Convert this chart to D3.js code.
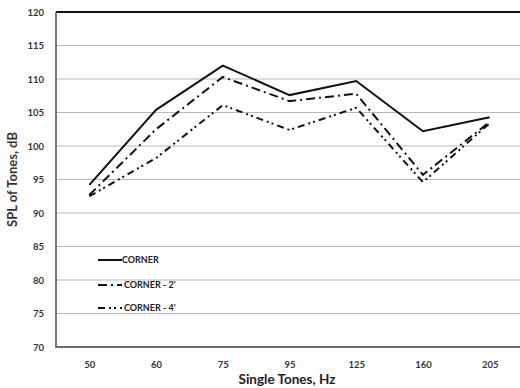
<!DOCTYPE html>
<html>
<head>
<meta charset="utf-8">
<script src="https://cdn.jsdelivr.net/npm/d3@7/dist/d3.min.js"></script>
<style>
  html, body { margin: 0; padding: 0; background: #fff; }
  svg { display: block; }
</style>
</head>
<body>
<svg id="chart" width="520" height="388"></svg>
<script>
// Single-tone SPL measured at the corner and at 2' / 4' from the corner
const frequencies = ["50", "60", "75", "95", "125", "160", "205"];
const corner   = [94.2, 105.4, 112.0, 107.6, 109.7, 102.2, 104.3];
const corner2  = [92.7, 102.5, 110.3, 106.7, 107.8,  95.7, 103.6];
const corner4  = [92.5,  98.2, 106.1, 102.4, 105.7,  94.6, 103.4];
const seriesNames = ["CORNER", "CORNER - 2'", "CORNER - 4'"];
const yTicks = [70, 75, 80, 85, 90, 95, 100, 105, 110, 115, 120];

const series = [
  { name: seriesNames[0], values: corner,  dash: null },
  { name: seriesNames[1], values: corner2, dash: "9,4,2,4" },
  { name: seriesNames[2], values: corner4, dash: "7,4,2,3,2,4" }
];

const svg = d3.select("#chart");
const plotLeft = 56, plotRight = 523, plotTop = 12, plotBottom = 347;
const font = "Lato, 'Open Sans', sans-serif";

const x = d3.scalePoint().domain(frequencies).range([plotLeft, plotRight]).padding(0.5);
const y = d3.scaleLinear().domain([70, 120]).range([plotBottom, plotTop]);

// horizontal gridlines
svg.append("g")
  .selectAll("line")
  .data(yTicks.filter(t => t > 70 && t < 120))
  .join("line")
  .attr("x1", plotLeft).attr("x2", 520)
  .attr("y1", d => y(d)).attr("y2", d => y(d))
  .attr("stroke", "#b8b8b8").attr("stroke-width", 1.2);

// y axis tick labels
const yAxis = d3.axisLeft(y).tickValues(yTicks).tickSize(0).tickPadding(12);
const gy = svg.append("g").attr("transform", `translate(${plotLeft},0)`).call(yAxis);
gy.select(".domain").remove();
gy.selectAll("text")
  .attr("font-family", font).attr("font-weight", "bold")
  .attr("font-size", 9.5).attr("fill", "#333");

// x axis tick labels
const xAxis = d3.axisBottom(x).tickSize(0).tickPadding(14);
const gx = svg.append("g").attr("transform", `translate(0,${plotBottom})`).call(xAxis);
gx.select(".domain").remove();
gx.selectAll("text")
  .attr("font-family", font).attr("font-weight", "bold")
  .attr("font-size", 9.5).attr("fill", "#333");

// plot frame: heavy top rule, grey left and bottom edges
svg.append("line").attr("x1", plotLeft).attr("x2", 520).attr("y1", plotTop).attr("y2", plotTop)
  .attr("stroke", "#111").attr("stroke-width", 2.2);
svg.append("path")
  .attr("d", `M${plotLeft},${plotTop}V${plotBottom}H520`)
  .attr("fill", "none").attr("stroke", "#6a6a6a").attr("stroke-width", 1.8);

// series lines
const line = d3.line()
  .x((d, i) => x(frequencies[i]))
  .y(d => y(d));

svg.append("g")
  .selectAll("path")
  .data(series)
  .join("path")
  .attr("d", d => line(d.values))
  .attr("fill", "none")
  .attr("stroke", "#111")
  .attr("stroke-width", 2)
  .attr("stroke-linejoin", "miter")
  .attr("stroke-dasharray", d => d.dash);

// legend
const legendY = [260, 285, 308];
const lg = svg.append("g");
series.forEach((s, i) => {
  lg.append("line")
    .attr("x1", 98).attr("x2", 122)
    .attr("y1", legendY[i]).attr("y2", legendY[i])
    .attr("stroke", "#111").attr("stroke-width", 2)
    .attr("stroke-dasharray", s.dash);
  lg.append("text")
    .attr("x", i === 0 ? 122 : 124).attr("y", legendY[i])
    .attr("dy", "0.35em")
    .attr("font-family", font).attr("font-weight", "bold")
    .attr("font-size", 9).attr("fill", "#222")
    .text(s.name);
});

// axis titles
svg.append("text")
  .attr("x", 287).attr("y", 384)
  .attr("text-anchor", "middle")
  .attr("font-family", font).attr("font-weight", "bold")
  .attr("font-size", 13.5).attr("fill", "#222")
  .text("Single Tones, Hz");

svg.append("text")
  .attr("transform", `translate(17,${(plotTop + plotBottom) / 2}) rotate(-90)`)
  .attr("text-anchor", "middle")
  .attr("font-family", font).attr("font-weight", "bold")
  .attr("font-size", 13).attr("fill", "#333")
  .text("SPL of Tones, dB");
</script>
</body>
</html>
